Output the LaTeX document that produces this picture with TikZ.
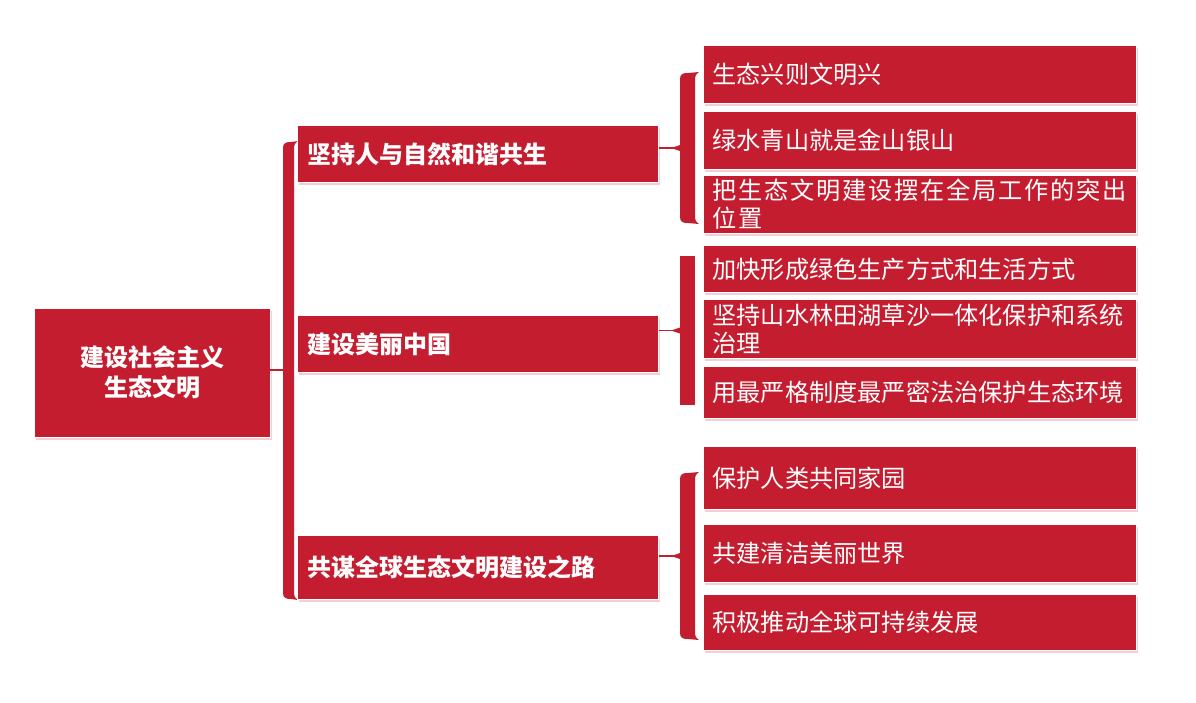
\documentclass[tikz,border=0pt]{standalone}
\usepackage{fontspec}
\setmainfont{Noto Sans CJK SC}
\usetikzlibrary{shadows}
\definecolor{brandred}{RGB}{197,29,48}
\tikzset{
  box/.style={fill=brandred, draw=white, line width=0.8pt, text=white, inner ysep=0pt,
    drop shadow={shadow xshift=2pt, shadow yshift=-3pt, fill=brandred!70, opacity=0.3}},
  rootbox/.style={box, font=\bfseries\fontsize{24}{30}\selectfont, align=center,
    minimum width=236pt, minimum height=129pt, inner xsep=0pt},
  lonebox/.style={box, anchor=north west, font=\bfseries\fontsize{24}{28}\selectfont,
    inner xsep=10pt, text width=341pt, align=left},
  ltwobox/.style={box, anchor=north west, font=\fontsize{24.2}{28}\selectfont,
    inner xsep=9pt, text width=415pt, align=left},
  conn/.style={draw=brandred, line width=1.6pt},
  brk/.style={fill=brandred},
}
\newcommand{\drawbrk}[4]{%
  \fill[brk] (#1,#4-6) -- (#1,#3+6) .. controls (#1,#3+1) and (#1+3,#3) .. (#1+8,#3)
    -- (#2+4,#3-1) .. controls (#2+1,#3+1) and (#2,#3+3) .. (#2,#3+7)
    -- (#2,#4-7) .. controls (#2,#4-3) and (#2+1,#4-1) .. (#2+4,#4+1)
    -- (#1+8,#4) .. controls (#1+3,#4) and (#1,#4-1) .. (#1,#4-6) -- cycle;}
\begin{document}
\begin{tikzpicture}[x=1pt,y=-1pt]
\useasboundingbox (0,0) rectangle (1196,702);
% root
\node[rootbox] (root) at (152,372.5) {建设社会主义\\生态文明};
% brackets
\drawbrk{283}{294}{142}{599}
\drawbrk{680}{695}{73}{223}
\fill[brk] (680,256) rectangle (695,405);
\drawbrk{680}{695}{473}{639}
\coordinate (bA) at (283,370);
\coordinate (b1) at (680,148);
\coordinate (b2) at (680,330.5);
\coordinate (b3) at (680,556);
% level 1
\node[lonebox, minimum height=57pt] (a) at (297,125) {坚持人与自然和谐共生};
\node[lonebox, minimum height=57pt] (b) at (297,315) {建设美丽中国};
\node[lonebox, minimum height=64pt] (c) at (297,535) {共谋全球生态文明建设之路};
% level 2
\node[ltwobox, minimum height=58pt] (a1) at (703,45) {生态兴则文明兴};
\node[ltwobox, minimum height=58pt] (a2) at (703,111) {绿水青山就是金山银山};
\node[ltwobox, minimum height=58pt] (a3) at (703,175) {\addfontfeatures{LetterSpace=7.5}把生态文明建设摆在全局工作的突出\\位置};
\node[ltwobox, minimum height=47pt] (b1n) at (703,245) {加快形成绿色生产方式和生活方式};
\node[ltwobox, minimum height=59pt] (b2n) at (703,299) {坚持山水林田湖草沙一体化保护和系统\\治理};
\node[ltwobox, minimum height=52pt] (b3n) at (703,366) {用最严格制度最严密法治保护生态环境};
\node[ltwobox, minimum height=63pt] (c1) at (703,446) {保护人类共同家园};
\node[ltwobox, minimum height=58pt] (c2) at (703,524) {共建清洁美丽世界};
\node[ltwobox, minimum height=56pt] (c3) at (703,594) {积极推动全球可持续发展};
% connectors
\draw[conn] (root.east |- bA) -- (bA);
\draw[conn] (a.east |- b1) -- (b1);
\draw[conn] (b.east |- b2) -- (b2);
\draw[conn] (c.east |- b3) -- (b3);
\foreach \p in {b1,b2,b3}{\fill[brk] ([xshift=-9pt]\p) -- ([yshift=3pt]\p) -- ([yshift=-3pt]\p) -- cycle;}
\end{tikzpicture}
\end{document}
